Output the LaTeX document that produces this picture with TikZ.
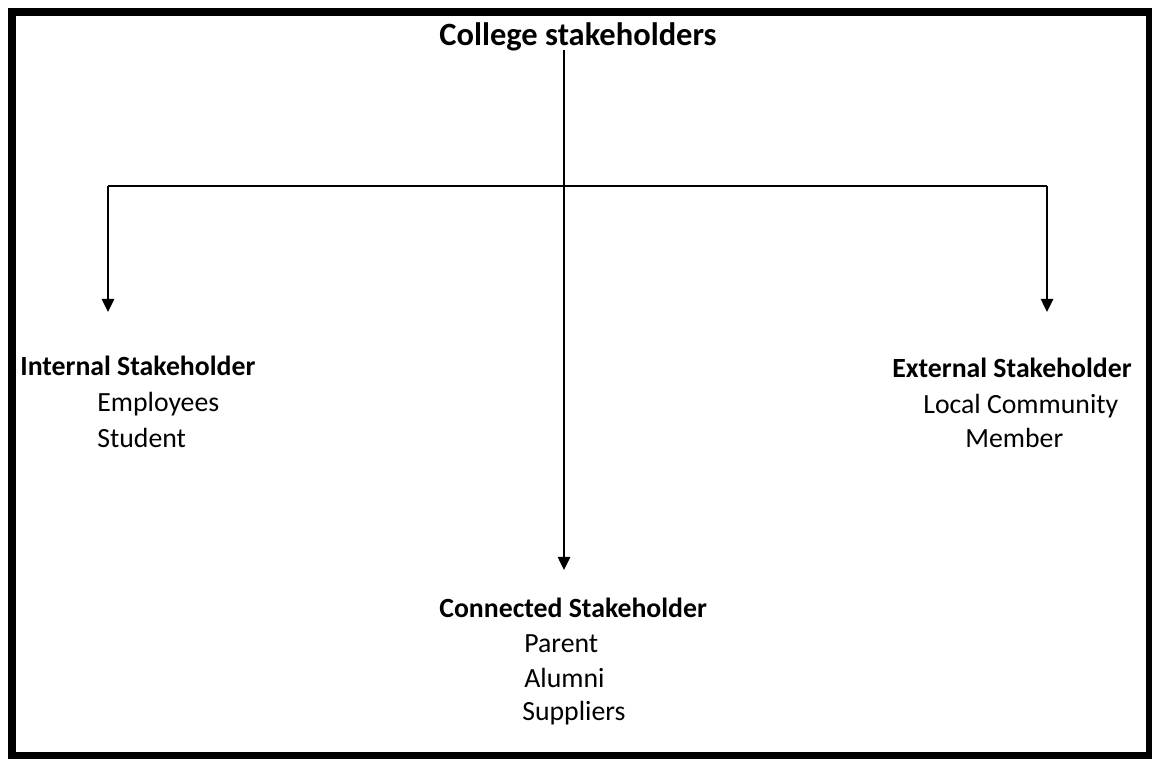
\documentclass[tikz,border=0pt]{standalone}
\usepackage{fontspec}
\setmainfont{Carlito}
\usetikzlibrary{arrows.meta}
\tikzset{
  head/.style={font=\bfseries\fontsize{15.8}{19}\selectfont, inner sep=0pt, anchor=base west},
  item/.style={font=\fontsize{15.8}{19}\selectfont, inner sep=0pt, anchor=base west},
  link/.style={line width=1.2pt},
  drop/.style={link, -{Triangle[length=7.5pt, width=7pt]}}
}
\begin{document}
\begin{tikzpicture}[x=0.02cm, y=-0.02cm]
  \useasboundingbox (0,0) rectangle (1152,758);
  \draw[line width=4pt] (12,12) rectangle (1149,755);
  % title
  \node[head, font=\bfseries\fontsize{18.5}{22}\selectfont] (college) at (439,45) {College stakeholders};
  \coordinate (top) at (564,50);
  \coordinate (mid) at (564,186);
  \coordinate (left) at (108,186);
  \coordinate (right) at (1047,186);
  \coordinate (leftend) at (108,312);
  \coordinate (rightend) at (1047,312);
  \coordinate (midend) at (564,570);
  % groups
  \node[head] (internal) at (20,375) {Internal Stakeholder};
  \node[item] (employees) at (97,411) {Employees};
  \node[item] (student) at (97,447) {Student};
  \node[head] (external) at (892,377) {External Stakeholder};
  \node[item] (community) at (923,413) {Local Community};
  \node[item] (member) at (965,447) {Member};
  \node[head] (connected) at (439,617) {Connected Stakeholder};
  \node[item] (parent) at (524,652) {Parent};
  \node[item] (alumni) at (524,687) {Alumni};
  \node[item] (suppliers) at (522,720) {Suppliers};
  % connectors
  \draw[link] (left) -- (right);
  \draw[drop] (top) -- (midend);
  \draw[drop] (left) -- (leftend);
  \draw[drop] (right) -- (rightend);
\end{tikzpicture}
\end{document}
